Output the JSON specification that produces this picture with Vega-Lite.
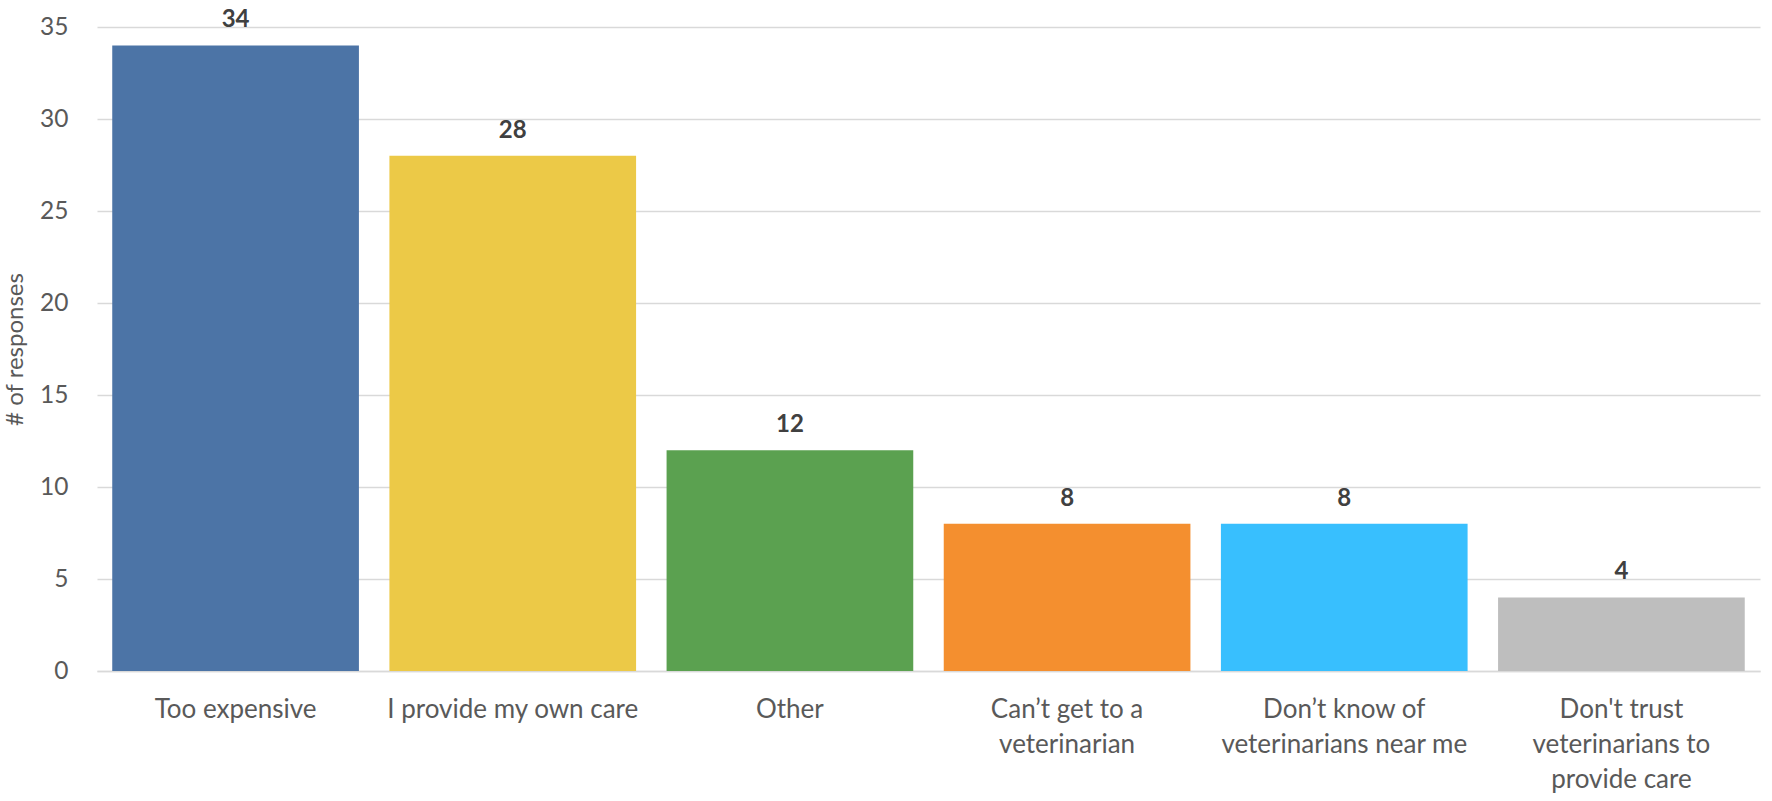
{
  "$schema": "https://vega.github.io/schema/vega-lite/v6.json",
  "width": 1663,
  "height": 644,
  "autosize": {"type": "none"},
  "padding": {"left": 97, "top": 27, "right": 12, "bottom": 130},
  "background": "white",
  "config": {
    "font": "Lato",
    "view": {"stroke": null},
    "axis": {"labelFont": "Lato", "titleFont": "Lato"}
  },
  "data": {
    "values": [
      {"reason": "Too expensive", "responses": 34, "color": "#4C74A6"},
      {"reason": "I provide my own care", "responses": 28, "color": "#ECC947"},
      {"reason": "Other", "responses": 12, "color": "#5BA150"},
      {"reason": "Can’t get to a veterinarian", "responses": 8, "color": "#F48F2F"},
      {"reason": "Don’t know of veterinarians near me", "responses": 8, "color": "#38BFFE"},
      {"reason": "Don't trust veterinarians to provide care", "responses": 4, "color": "#BEBEBE"}
    ]
  },
  "encoding": {
    "x": {
      "field": "reason",
      "type": "nominal",
      "sort": null,
      "scale": {"paddingInner": 0.11, "paddingOuter": 0.055},
      "axis": {
        "title": null,
        "labelAngle": 0,
        "labelFontSize": 26,
        "labelColor": "#595959",
        "labelPadding": 25,
        "labelLineHeight": 35,
        "labelLimit": 0,
        "ticks": false,
        "tickSize": 0,
        "domain": true,
        "domainColor": "#D9D9D9",
        "domainWidth": 1.5,
        "labelExpr": "datum.value == 'Can’t get to a veterinarian' ? ['Can’t get to a', 'veterinarian'] : datum.value == 'Don’t know of veterinarians near me' ? ['Don’t know of', 'veterinarians near me'] : datum.value == \"Don't trust veterinarians to provide care\" ? [\"Don't trust\", 'veterinarians to', 'provide care'] : datum.value"
      }
    },
    "y": {
      "field": "responses",
      "type": "quantitative",
      "scale": {"domain": [0, 35], "nice": false},
      "axis": {
        "title": "# of responses",
        "titleFontSize": 24,
        "titleFontWeight": "normal",
        "titleColor": "#595959",
        "titlePadding": 12,
        "values": [0, 5, 10, 15, 20, 25, 30, 35],
        "labelFontSize": 24.5,
        "labelColor": "#595959",
        "labelPadding": 29,
        "ticks": false,
        "tickSize": 0,
        "domain": false,
        "grid": true,
        "gridColor": "#D9D9D9",
        "gridWidth": 1.5
      }
    }
  },
  "layer": [
    {
      "mark": {"type": "bar"},
      "encoding": {
        "color": {"field": "color", "type": "nominal", "scale": null, "legend": null}
      }
    },
    {
      "mark": {
        "type": "text",
        "baseline": "alphabetic",
        "dy": -18,
        "fontSize": 24,
        "fontWeight": "bold",
        "color": "#404040"
      },
      "encoding": {
        "text": {"field": "responses", "type": "quantitative"}
      }
    }
  ]
}
